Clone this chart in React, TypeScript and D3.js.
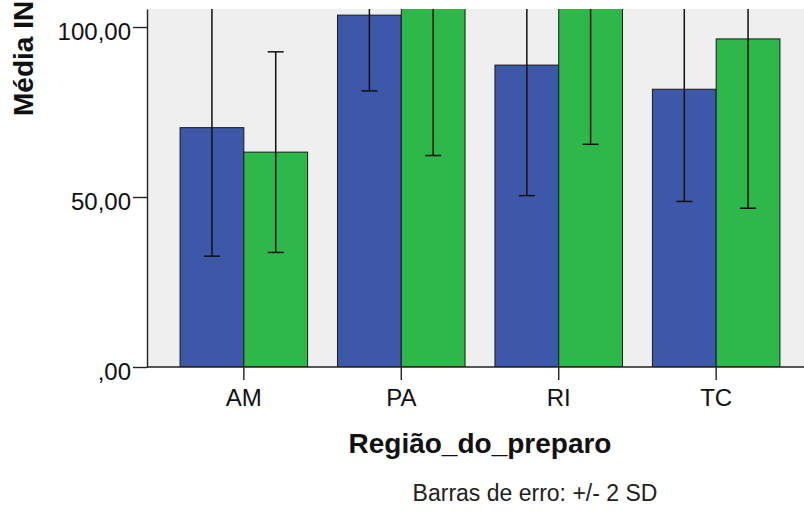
import * as d3 from 'd3';
import React, { useRef, useEffect } from 'react';

const categories = ["AM", "PA", "RI", "TC"];
const seriesKeys = ["grupo1", "grupo2"];
// bar heights (means) and error half-lengths (2 SD)
const meansBlue = [70.4, 103.5, 88.8, 81.7];
const sd2Blue = [37.8, 22.3, 38.4, 33.0];
const meansGreen = [63.2, 112.0, 108.0, 96.5];
const sd2Green = [29.5, 49.8, 42.5, 49.8];
const yTicks = [0, 50, 100];

const width = 804;
const height = 514;
const colors = { grupo1: "#3d57a9", grupo2: "#2fb84a" };
const FONT = "'Liberation Sans', Arial, Helvetica, sans-serif";

function App() {
    const ref = useRef(null);

    useEffect(() => {
        const svg = d3.select(ref.current);
        svg.selectAll("*").remove();

        const plotLeft = 147, plotRight = 804, plotTop = 9, plotBottom = 367;

        const y = d3.scaleLinear().domain([0, 105.3]).range([plotBottom, plotTop]);
        // plot area runs on past the right edge of the picture
        const x = d3.scaleBand().domain(categories)
            .range([plotLeft, 813])
            .paddingInner(0.19)
            .paddingOuter(0.21);
        const xSub = d3.scaleBand().domain(seriesKeys).range([0, x.bandwidth()]);

        const rows = categories.map((c, i) => ({
            cat: c,
            values: [
                { key: "grupo1", mean: meansBlue[i], err: sd2Blue[i] },
                { key: "grupo2", mean: meansGreen[i], err: sd2Green[i] },
            ]
        }));

        svg.append("defs").append("clipPath").attr("id", "plotclip")
            .append("rect")
            .attr("x", plotLeft).attr("y", plotTop)
            .attr("width", plotRight - plotLeft).attr("height", plotBottom - plotTop);

        svg.append("rect")
            .attr("x", plotLeft).attr("y", plotTop)
            .attr("width", plotRight - plotLeft).attr("height", plotBottom - plotTop)
            .attr("fill", "#efefef");

        const plot = svg.append("g").attr("clip-path", "url(#plotclip)");

        const groups = plot.selectAll("g.cat").data(rows).enter()
            .append("g").attr("class", "cat")
            .attr("transform", d => `translate(${x(d.cat)},0)`);

        groups.selectAll("rect").data(d => d.values).enter()
            .append("rect")
            .attr("x", d => xSub(d.key))
            .attr("y", d => y(d.mean))
            .attr("width", xSub.bandwidth())
            .attr("height", d => y(0) - y(d.mean))
            .attr("fill", d => colors[d.key])
            .attr("stroke", "#1a1a1a")
            .attr("stroke-width", 1);

        // error bars +/- 2 SD
        const capW = 16;
        const eb = groups.selectAll("g.err").data(d => d.values).enter()
            .append("g").attr("class", "err")
            .attr("stroke", "#111").attr("stroke-width", 1.5);
        eb.append("line")
            .attr("x1", d => xSub(d.key) + xSub.bandwidth() / 2)
            .attr("x2", d => xSub(d.key) + xSub.bandwidth() / 2)
            .attr("y1", d => y(d.mean - d.err))
            .attr("y2", d => y(d.mean + d.err));
        eb.append("line")
            .attr("x1", d => xSub(d.key) + xSub.bandwidth() / 2 - capW / 2)
            .attr("x2", d => xSub(d.key) + xSub.bandwidth() / 2 + capW / 2)
            .attr("y1", d => y(d.mean - d.err))
            .attr("y2", d => y(d.mean - d.err));
        eb.append("line")
            .attr("x1", d => xSub(d.key) + xSub.bandwidth() / 2 - capW / 2)
            .attr("x2", d => xSub(d.key) + xSub.bandwidth() / 2 + capW / 2)
            .attr("y1", d => y(d.mean + d.err))
            .attr("y2", d => y(d.mean + d.err));

        // y axis
        const fmt = v => v === 0 ? ",00" : d3.format(".2f")(v).replace(".", ",");
        const yAxis = svg.append("g")
            .attr("transform", `translate(${plotLeft},0)`)
            .call(d3.axisLeft(y).tickValues(yTicks).tickFormat(fmt).tickSize(14).tickSizeOuter(0).tickPadding(2));
        yAxis.selectAll("text").attr("dy", "0.5em");

        // x axis
        const xAxis = svg.append("g")
            .attr("transform", `translate(0,${plotBottom})`)
            .call(d3.axisBottom(x).tickSize(13).tickPadding(9));
        xAxis.select(".domain").remove();

        svg.selectAll(".tick line").attr("stroke", "#222").attr("stroke-width", 1.4);
        svg.selectAll(".tick text")
            .attr("fill", "#111")
            .style("font-family", FONT)
            .style("font-size", "24px");
        yAxis.select(".domain").attr("stroke", "#222").attr("stroke-width", 1.4);

        svg.append("line")
            .attr("x1", plotLeft).attr("x2", plotRight)
            .attr("y1", plotBottom).attr("y2", plotBottom)
            .attr("stroke", "#222").attr("stroke-width", 1.4);

        // titles
        svg.append("text")
            .attr("x", 480).attr("y", 453)
            .attr("text-anchor", "middle")
            .style("font-family", FONT)
            .style("font-size", "28px")
            .style("font-weight", "bold")
            .attr("fill", "#111")
            .text("Região_do_preparo");

        svg.append("text")
            .attr("transform", "translate(33,116) rotate(-90)")
            .attr("text-anchor", "start")
            .style("font-family", FONT)
            .style("font-size", "28px")
            .style("font-weight", "bold")
            .attr("fill", "#111")
            .text("Média IN");

        svg.append("text")
            .attr("x", 535).attr("y", 501)
            .attr("text-anchor", "middle")
            .style("font-family", FONT)
            .style("font-size", "23px")
            .attr("fill", "#222")
            .text("Barras de erro: +/- 2 SD");
    }, []);

    return (
        <div style={{ position: 'absolute', left: 0, top: 0, width, height }}>
            <svg ref={ref} width={width} height={height} style={{ display: 'block', background: '#fff' }}></svg>
        </div>
    );
}

export default App;
